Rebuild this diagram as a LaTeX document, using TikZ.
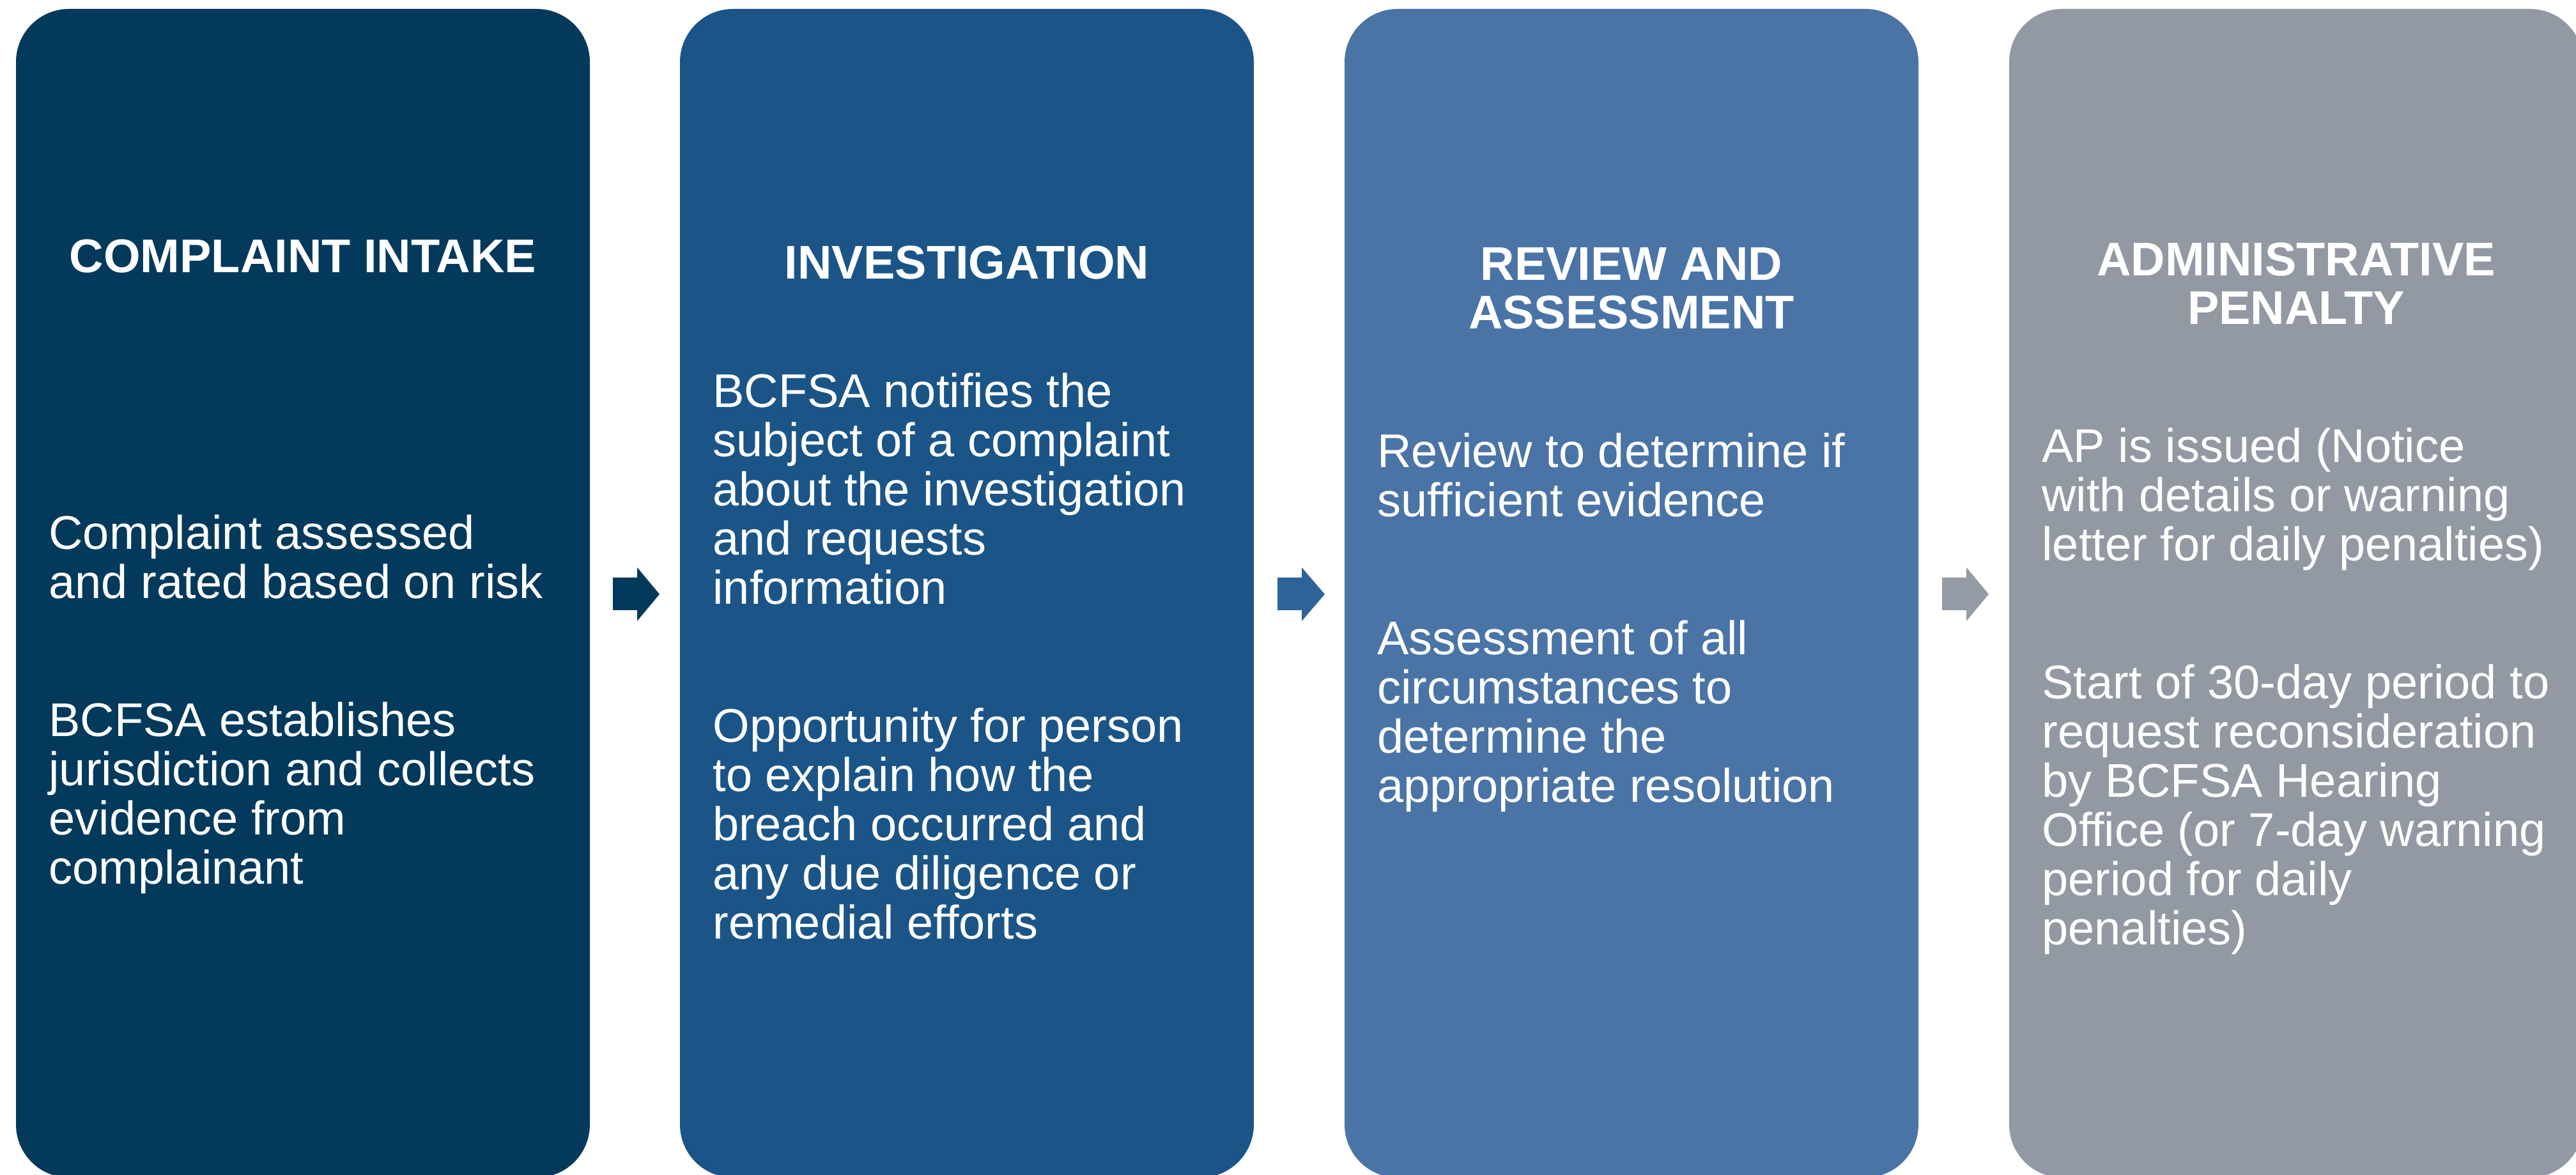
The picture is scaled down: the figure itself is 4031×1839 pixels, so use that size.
\documentclass[tikz,border=0pt]{standalone}
\usepackage{fontspec}
\setmainfont{Liberation Sans}

\definecolor{stepone}{RGB}{3,58,92}
\definecolor{steptwo}{RGB}{27,85,135}
\definecolor{stepthree}{RGB}{74,116,166}
\definecolor{stepfour}{RGB}{146,153,163}
\definecolor{arrowtwo}{RGB}{45,99,152}
\definecolor{arrowthree}{RGB}{149,155,165}

\tikzset{every picture/.style={line width=0.75pt}}
\tikzset{
  panel/.style={rounded corners=20.75pt},
  heading/.style={text=white, inner sep=0pt, align=center, anchor=base,
    font=\bfseries\fontsize{18.5}{19}\selectfont},
  bodytext/.style={text=white, inner sep=0pt, align=left, anchor=base west,
    font=\fontsize{18.5}{19.25}\selectfont}
}

\begin{document}
\begin{tikzpicture}[x=0.25pt,y=0.25pt,yscale=-1,xscale=1]
\useasboundingbox (0,0) rectangle (4031,1839);

%Shape: Rounded Rect [id:complaint]
\fill [stepone, panel] (25,14) rectangle (923,1843);
%Shape: Rounded Rect [id:investigation]
\fill [steptwo, panel] (1064,14) rectangle (1962,1843);
%Shape: Rounded Rect [id:review]
\fill [stepthree, panel] (2104,14) rectangle (3002,1843);
%Shape: Rounded Rect [id:penalty]
\fill [stepfour, panel] (3144,14) rectangle (4042,1843);

%Shape: Right Arrow [id:arrowone]
\fill [stepone] (959,904) -- (997,904) -- (997,888) -- (1032,930) -- (997,972) -- (997,955) -- (959,955) -- cycle ;
%Shape: Right Arrow [id:arrowtwo]
\fill [arrowtwo] (1999,904) -- (2037,904) -- (2037,888) -- (2073,930) -- (2037,972) -- (2037,955) -- (1999,955) -- cycle ;
%Shape: Right Arrow [id:arrowthree]
\fill [arrowthree] (3039,904) -- (3077,904) -- (3077,888) -- (3112,930) -- (3077,972) -- (3077,955) -- (3039,955) -- cycle ;

% Text Node (anchored on last baseline)
\node (intakehead) [heading] at (474,427) {COMPLAINT INTAKE};
% Text Node
\node (intakebody) [bodytext] at (75,1383) {Complaint assessed\\and rated based on risk\\[34.75pt]BCFSA establishes\\jurisdiction and collects\\evidence from\\complainant};
% Text Node
\node (invhead) [heading] at (1513,437) {INVESTIGATION};
% Text Node
\node (invbody) [bodytext] at (1114,1469) {BCFSA notifies the\\subject of a complaint\\about the investigation\\and requests\\information\\[34.75pt]Opportunity for person\\to explain how the\\breach occurred and\\any due diligence or\\remedial efforts};
% Text Node
\node (reviewhead) [heading] at (2553,515) {REVIEW AND\\ASSESSMENT};
% Text Node
\node (reviewbody) [bodytext] at (2154,1255) {Review to determine if\\sufficient evidence\\[34.75pt]Assessment of all\\circumstances to\\determine the\\appropriate resolution};
% Text Node
\node (penaltyhead) [heading] at (3593,508) {ADMINISTRATIVE\\PENALTY};
% Text Node
\node (penaltybody) [bodytext] at (3194,1478) {AP is issued (Notice\\with details or warning\\letter for daily penalties)\\[34.75pt]Start of 30-day period to\\request reconsideration\\by BCFSA Hearing\\Office (or 7-day warning\\period for daily\\penalties)};

\end{tikzpicture}
\end{document}
